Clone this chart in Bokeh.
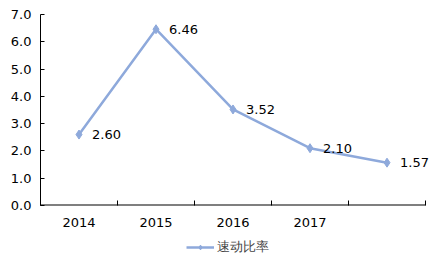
from bokeh.plotting import figure
from bokeh.layouts import column
from bokeh.models import (Range1d, FixedTicker, Legend, LegendItem, ColumnDataSource,
                          PrintfTickFormatter, LabelSet)
from bokeh.core.properties import value
from bokeh.embed import file_html
from bokeh.resources import INLINE

years = ["2014", "2015", "2016", "2017", ""]
quick_ratio = [2.60, 6.46, 3.52, 2.10, 1.57]
series_name = "速动比率"
y_ticks = [0, 1, 2, 3, 4, 5, 6, 7]

FONT = "DejaVu Sans"
COLOR = "#8EA9DB"
FS = "13px"

# frame is a little wider than the category axis so the last data label is not clipped
AXIS_PX = 385
FRAME_PX = 393
n = len(years)

xs = [i + 0.5 for i in range(n)]
src = ColumnDataSource(dict(x=xs, y=quick_ratio, lab=["%.2f" % v for v in quick_ratio]))

p = figure(width=435, height=230, output_backend="svg", toolbar_location=None,
           x_range=Range1d(0, n * FRAME_PX / AXIS_PX), y_range=Range1d(0, 7),
           min_border_left=40, min_border_right=2, min_border_top=14, min_border_bottom=25)
p.outline_line_color = None
p.xgrid.visible = False
p.ygrid.visible = False
p.background_fill_color = "white"
p.border_fill_color = "white"

# category-axis baseline (only as long as the categories)
p.segment(x0=[0], y0=[0], x1=[n], y1=[0], line_color="black", line_width=2)

line = p.line("x", "y", source=src, line_color=COLOR, line_width=2.5)
pts = p.scatter("x", "y", source=src, marker="diamond", size=9, fill_color=COLOR, line_color=COLOR)
labels = LabelSet(x="x", y="y", text="lab", source=src, x_offset=13, y_offset=0,
                  text_baseline="middle", text_align="left",
                  text_font=value(FONT), text_font_size=value(FS), text_color=value("black"))
p.add_layout(labels)

# x axis: labels at category centers, ticks at boundaries
xa = p.xaxis[0]
xa.ticker = FixedTicker(ticks=xs, minor_ticks=list(range(n + 1)))
xa.major_label_overrides = {x: y for x, y in zip(xs, years)}
xa.major_tick_in = 0
xa.major_tick_out = 0
xa.minor_tick_in = 5
xa.minor_tick_out = 0
xa.minor_tick_line_color = "black"
xa.axis_line_color = None
xa.major_label_standoff = 12
xa.major_label_text_font = FONT
xa.major_label_text_font_size = FS
xa.major_label_text_color = "black"

ya = p.yaxis[0]
ya.ticker = FixedTicker(ticks=y_ticks)
ya.formatter = PrintfTickFormatter(format="%.1f")
ya.major_tick_in = 4
ya.major_tick_out = 0
ya.minor_tick_in = 0
ya.minor_tick_out = 0
ya.axis_line_color = "black"
ya.major_tick_line_color = "black"
ya.major_label_standoff = 9
ya.major_label_text_font = FONT
ya.major_label_text_font_size = FS
ya.major_label_text_color = "black"

# legend in a strip below (proxy renderers draw the series data outside the strip's range)
lg = figure(width=435, height=26, output_backend="svg", toolbar_location=None,
            x_range=Range1d(100, 101), y_range=Range1d(100, 101),
            min_border_left=0, min_border_right=0, min_border_top=0, min_border_bottom=0)
lg.axis.visible = False
lg.grid.visible = False
lg.outline_line_color = None
lg.border_fill_color = "white"
lg.background_fill_color = "white"
lline = lg.line("x", "y", source=src, line_color=COLOR, line_width=2.5)
lpts = lg.scatter("x", "y", source=src, marker="diamond", size=9, fill_color=COLOR, line_color=COLOR)
legend = Legend(items=[LegendItem(label=series_name, renderers=[lline, lpts])],
                location=(146, 0), orientation="horizontal",
                border_line_color=None, background_fill_alpha=0,
                label_text_font=FONT, label_text_font_size=FS,
                glyph_width=28, glyph_height=12, padding=2, margin=0, label_standoff=3)
lg.add_layout(legend, "center")

open("out.html", "w").write(file_html(column(p, lg, spacing=0), INLINE))
